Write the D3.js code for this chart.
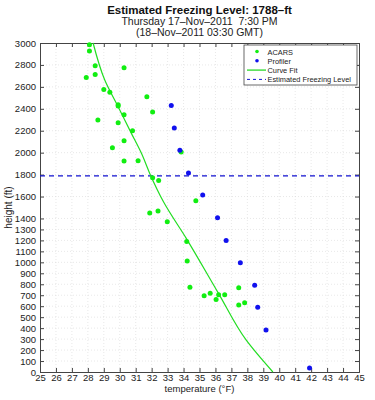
<!DOCTYPE html>
<html>
<head>
<meta charset="utf-8">
<script src="https://cdn.jsdelivr.net/npm/d3@7.9.0/dist/d3.min.js"></script>
<style>
  body { margin: 0; background: #fff; }
  svg { font-family: "Liberation Sans", Arial, sans-serif; }
</style>
</head>
<body>
<div id="chart"></div>
<script>
// ACARS observations (temperature F, height ft)
const acarsT = [28.1, 28.1, 28.46, 28.46, 27.9, 30.27, 29.0, 29.38, 29.9, 29.9, 30.27, 28.63, 29.9, 30.8,
  30.27, 29.54, 30.27, 31.15, 31.7, 32.06, 32.06, 32.44, 33.85, 34.77, 31.88, 32.4, 32.98, 34.2, 34.23,
  34.4, 35.29, 35.67, 36.04, 36.2, 36.58, 37.46, 37.46, 37.83];
const acarsH = [2985, 2926, 2792, 2713, 2685, 2774, 2577, 2552, 2437, 2425, 2346, 2297, 2273, 2200,
  2109, 2045, 1923, 1926, 2510, 2370, 1771, 1747, 2005, 1562, 1449, 1467, 1370, 1191, 1012,
  772, 696, 717, 662, 705, 705, 769, 611, 632];

// Profiler observations
const profT = [33.23, 33.42, 33.77, 34.31, 35.2, 36.13, 36.67, 37.56, 38.46, 38.65, 39.17, 41.9];
const profH = [2431, 2224, 2021, 1814, 1613, 1407, 1200, 996, 790, 590, 383, 36];

// curve fit
const fitT = [28.33, 29.06, 29.9, 30.73, 31.36, 31.88, 32.75, 34.17, 36.19, 37.92, 39.6];
const fitH = [3000, 2662, 2418, 2176, 1994, 1811, 1550, 1219, 717, 292, 0];

const freezingLevel = 1788;

const xTicks = d3.range(25, 46, 1);
const yTicks = d3.range(0, 1500, 100).concat(d3.range(1600, 3001, 200));

const titleLines = [
  'Estimated Freezing Level: 1788\u2013ft',
  'Thursday 17\u2013Nov\u20132011  7:30 PM',
  '(18\u2013Nov\u20132011 03:30 GMT)'
];

const width = 375, height = 400;
const margin = { top: 43, right: 16, bottom: 28, left: 40 };
const innerW = width - margin.left - margin.right;
const innerH = height - margin.top - margin.bottom;

const svg = d3.select('#chart').append('svg')
  .attr('width', width)
  .attr('height', height);

const g = svg.append('g')
  .attr('transform', `translate(${margin.left},${margin.top})`);

const x = d3.scaleLinear().domain([25, 45]).range([0, innerW]);
const y = d3.scaleLinear().domain([0, 3000]).range([innerH, 0]);

// grid
g.append('g').selectAll('line.gx')
  .data(xTicks.slice(1, -1))
  .join('line')
  .attr('x1', d => x(d)).attr('x2', d => x(d))
  .attr('y1', 0).attr('y2', innerH)
  .attr('stroke', '#d8d8d8').attr('stroke-width', 0.6)
  .attr('stroke-dasharray', '1,2');

g.append('g').selectAll('line.gy')
  .data(yTicks.slice(1, -1))
  .join('line')
  .attr('y1', d => y(d)).attr('y2', d => y(d))
  .attr('x1', 0).attr('x2', innerW)
  .attr('stroke', '#d8d8d8').attr('stroke-width', 0.6)
  .attr('stroke-dasharray', '1,2');

// axes, matlab style with inward ticks
const axisColor = '#444';
const xb = g.append('g').attr('transform', `translate(0,${innerH})`)
  .call(d3.axisBottom(x).tickValues(xTicks).tickSize(-4).tickPadding(2).tickFormat(d3.format('d')));
const xt = g.append('g')
  .call(d3.axisTop(x).tickValues(xTicks).tickSize(-4).tickFormat(''));
const yl = g.append('g')
  .call(d3.axisLeft(y).tickValues(yTicks).tickSize(-4).tickPadding(4).tickFormat(d3.format('d')));
const yr = g.append('g').attr('transform', `translate(${innerW},0)`)
  .call(d3.axisRight(y).tickValues(yTicks).tickSize(-4).tickFormat(''));

[xb, xt, yl, yr].forEach(a => {
  a.selectAll('.domain').attr('stroke', axisColor);
  a.selectAll('.tick line').attr('stroke', axisColor);
  a.selectAll('text').attr('fill', '#222').style('font-size', '9.5px')
    .style('font-family', '"Liberation Sans", Arial, sans-serif');
});

// freezing level
g.append('line')
  .attr('x1', 0).attr('x2', innerW)
  .attr('y1', y(freezingLevel)).attr('y2', y(freezingLevel))
  .attr('stroke', '#1010d0').attr('stroke-width', 1.3)
  .attr('stroke-dasharray', '5,4');

// curve fit
const fit = fitT.map((t, i) => [t, fitH[i]]);
g.append('path')
  .datum(fit)
  .attr('fill', 'none')
  .attr('stroke', '#22dd22')
  .attr('stroke-width', 1.2)
  .attr('d', d3.line().x(d => x(d[0])).y(d => y(d[1])).curve(d3.curveMonotoneY));

// points
g.append('g').selectAll('circle')
  .data(acarsT.map((t, i) => [t, acarsH[i]]))
  .join('circle')
  .attr('cx', d => x(d[0])).attr('cy', d => y(d[1]))
  .attr('r', 2.5).attr('fill', '#11ee11');

g.append('g').selectAll('circle')
  .data(profT.map((t, i) => [t, profH[i]]))
  .join('circle')
  .attr('cx', d => x(d[0])).attr('cy', d => y(d[1]))
  .attr('r', 2.5).attr('fill', '#1111ee');

// legend
const lg = svg.append('g').attr('transform', 'translate(244,45)');
lg.append('rect')
  .attr('width', 113).attr('height', 40)
  .attr('fill', '#fff').attr('stroke', axisColor).attr('stroke-width', 0.8);
const items = [
  { label: 'ACARS', kind: 'dot', color: '#11ee11' },
  { label: 'Profiler', kind: 'dot', color: '#1111ee' },
  { label: 'Curve Fit', kind: 'line', color: '#44dd44' },
  { label: 'Estimated Freezing Level', kind: 'dash', color: '#1010d0' }
];
items.forEach((it, i) => {
  const yy = 6.5 + i * 9.3;
  if (it.kind === 'dot') {
    lg.append('circle').attr('cx', 13).attr('cy', yy).attr('r', 1.8).attr('fill', it.color);
  } else {
    lg.append('line').attr('x1', 3).attr('x2', 22).attr('y1', yy).attr('y2', yy)
      .attr('stroke', it.color).attr('stroke-width', it.kind === 'line' ? 1.5 : 1)
      .attr('stroke-dasharray', it.kind === 'dash' ? '3,3' : null);
  }
  lg.append('text').attr('x', 23.5).attr('y', yy + 3)
    .style('font-size', '7.4px').attr('fill', '#222').text(it.label);
});

// titles
const cx = margin.left + innerW / 2;
svg.append('text').attr('x', cx).attr('y', 13.5).attr('text-anchor', 'middle')
  .style('font-size', '11.5px').style('font-weight', 'bold').attr('fill', '#111').text(titleLines[0]);
svg.append('text').attr('x', cx).attr('y', 24.5).attr('text-anchor', 'middle')
  .style('font-size', '10.5px').style('white-space', 'pre').attr('fill', '#222').text(titleLines[1]);
svg.append('text').attr('x', cx).attr('y', 35.5).attr('text-anchor', 'middle')
  .style('font-size', '10.5px').attr('fill', '#222').text(titleLines[2]);

// axis labels
svg.append('text').attr('x', cx).attr('y', 392).attr('text-anchor', 'middle')
  .style('font-size', '9.5px').attr('fill', '#222').text('temperature (\u00B0F)');
svg.append('text')
  .attr('transform', `translate(12,${margin.top + innerH / 2}) rotate(-90)`)
  .attr('text-anchor', 'middle')
  .style('font-size', '10px').attr('fill', '#222').text('height (ft)');
</script>
</body>
</html>
